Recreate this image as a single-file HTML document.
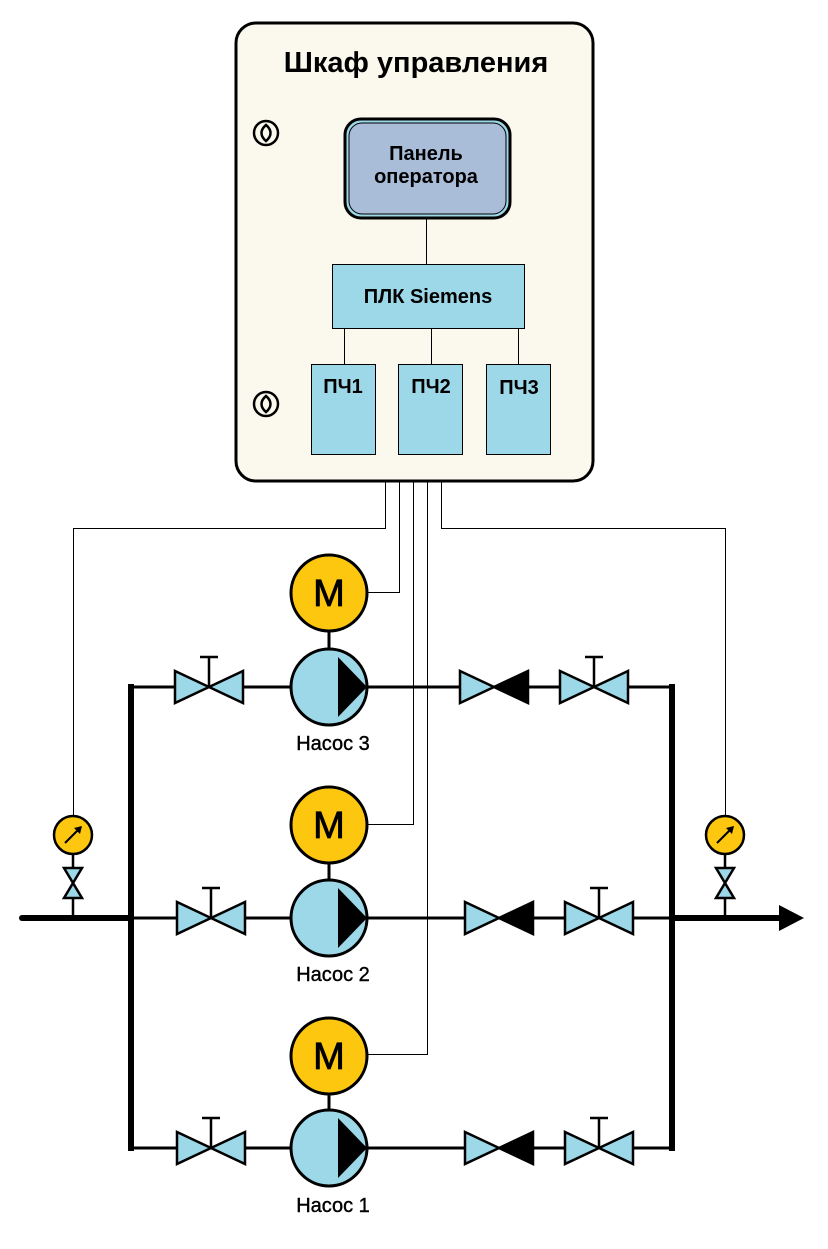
<!DOCTYPE html>
<html><head><meta charset="utf-8"><style>body{margin:0;background:#fff}</style></head><body>
<svg width="828" height="1244" viewBox="0 0 828 1244" xmlns="http://www.w3.org/2000/svg" font-family="Liberation Sans, DejaVu Sans, sans-serif">
<defs>
<g id="gate"><path d="M-34,-16 L0,0 L-34,16Z M34,-16 L0,0 L34,16Z" fill="#9dd8e8" stroke="#000" stroke-width="2.5" stroke-linejoin="miter"/><line x1="0" y1="0" x2="0" y2="-30" stroke="#000" stroke-width="2.5"/><line x1="-9" y1="-30" x2="9" y2="-30" stroke="#000" stroke-width="2.5"/></g>
<g id="check"><path d="M-34,-16 L0,0 L-34,16Z" fill="#9dd8e8" stroke="#000" stroke-width="2.5"/><path d="M34,-16 L0,0 L34,16Z" fill="#000" stroke="#000" stroke-width="2.5"/></g>
<g id="pump"><circle r="38" fill="#9dd8e8" stroke="#000" stroke-width="3"/><path d="M9,-30 L38,0 L9,30Z" fill="#000"/></g>
<g id="motor"><circle r="38" fill="#fdc70f" stroke="#000" stroke-width="3"/><text x="0" y="13" text-anchor="middle" font-size="38" fill="#000" stroke="#000" stroke-width="0.8">M</text></g>
<g id="gauge"><circle r="19" fill="#fdc70f" stroke="#000" stroke-width="2.5"/><line x1="-8" y1="8" x2="8" y2="-8" stroke="#000" stroke-width="2"/><path d="M9,-9 L1,-7 L7,-1Z" fill="#000"/><line x1="0" y1="19" x2="0" y2="33" stroke="#000" stroke-width="2.5"/><path d="M-9,33 L9,33 L-9,63 L9,63Z" fill="#9dd8e8" stroke="#000" stroke-width="2.5"/><line x1="0" y1="63" x2="0" y2="83" stroke="#000" stroke-width="2.5"/></g>
</defs>
<g stroke="#000" stroke-width="1" fill="none">
<polyline points="385.5,482 385.5,528.5 73.5,528.5 73.5,816"/>
<polyline points="441.5,482 441.5,528.5 725.5,528.5 725.5,816"/>
<polyline points="399.5,482 399.5,592.5 368,592.5"/>
<polyline points="413.5,482 413.5,824.5 368,824.5"/>
<polyline points="427.5,482 427.5,1054.5 368,1054.5"/>
</g>
<rect x="236" y="23" width="357" height="458" rx="20" fill="#fbf9ee" stroke="#000" stroke-width="3"/>
<text x="416" y="72" text-anchor="middle" font-size="29" font-weight="bold">Шкаф управления</text>
<g stroke="#000" stroke-width="2.5" fill="none"><circle cx="266" cy="133" r="12"/><path d="M266,125 C260,130 260,136 266,141 C272,136 272,130 266,125Z"/><circle cx="266" cy="404" r="12"/><path d="M266,396 C260,401 260,407 266,412 C272,407 272,401 266,396Z"/></g>
<rect x="345" y="119" width="165" height="99" rx="16" fill="#9dd8e8" stroke="#000" stroke-width="3"/>
<rect x="349" y="123" width="157" height="91" rx="13" fill="#a9bcd8" stroke="#000" stroke-width="1"/>
<text x="426" y="160" text-anchor="middle" font-size="20" font-weight="bold">Панель</text>
<text x="426" y="183" text-anchor="middle" font-size="20" font-weight="bold">оператора</text>
<line x1="426.5" y1="218" x2="426.5" y2="264" stroke="#000"/>
<rect x="332.5" y="264.5" width="192" height="64" fill="#9dd8e8" stroke="#000"/>
<text x="428" y="303" text-anchor="middle" font-size="20" font-weight="bold">ПЛК Siemens</text>
<g stroke="#000"><line x1="344.5" y1="329" x2="344.5" y2="364"/><line x1="431.5" y1="329" x2="431.5" y2="364"/><line x1="518.5" y1="329" x2="518.5" y2="364"/></g>
<g fill="#9dd8e8" stroke="#000"><rect x="311.5" y="364.5" width="64" height="90"/><rect x="398.5" y="364.5" width="64" height="90"/><rect x="486.5" y="364.5" width="64" height="90"/></g>
<g font-size="20" font-weight="bold" text-anchor="middle"><text x="343" y="393">ПЧ1</text><text x="431" y="393">ПЧ2</text><text x="519" y="394">ПЧ3</text></g>
<g stroke="#000" fill="none">
<line x1="131" y1="684" x2="131" y2="1151" stroke-width="6"/>
<line x1="672" y1="684" x2="672" y2="1151" stroke-width="6"/>
<line x1="22" y1="918" x2="131" y2="918" stroke-width="6" stroke-linecap="round"/>
<line x1="672" y1="918" x2="782" y2="918" stroke-width="6"/>
<line x1="131" y1="687" x2="672" y2="687" stroke-width="3"/>
<line x1="131" y1="918" x2="672" y2="918" stroke-width="3"/>
<line x1="131" y1="1148" x2="672" y2="1148" stroke-width="3"/>
<line x1="329" y1="630" x2="329" y2="650" stroke-width="3"/>
<line x1="329" y1="862" x2="329" y2="881" stroke-width="3"/>
<line x1="329" y1="1092" x2="329" y2="1111" stroke-width="3"/>
</g>
<path d="M779,905 L804,918 L779,931Z" fill="#000"/>
<use href="#motor" x="329" y="593"/><use href="#pump" x="329" y="687"/>
<use href="#motor" x="329" y="825"/><use href="#pump" x="329" y="918"/>
<use href="#motor" x="329" y="1056"/><use href="#pump" x="329" y="1148"/>
<use href="#gate" x="209" y="687"/><use href="#check" x="494" y="687"/><use href="#gate" x="594" y="687"/>
<use href="#gate" x="211" y="918"/><use href="#check" x="499" y="918"/><use href="#gate" x="599" y="918"/>
<use href="#gate" x="211" y="1148"/><use href="#check" x="499" y="1148"/><use href="#gate" x="599" y="1148"/>
<use href="#gauge" x="73" y="835"/><use href="#gauge" x="725" y="835"/>
<g font-size="20" text-anchor="middle" stroke="#000" stroke-width="0.4"><text x="333" y="750">Насос 3</text><text x="333" y="981">Насос 2</text><text x="333" y="1212">Насос 1</text></g>
</svg>
</body></html>
